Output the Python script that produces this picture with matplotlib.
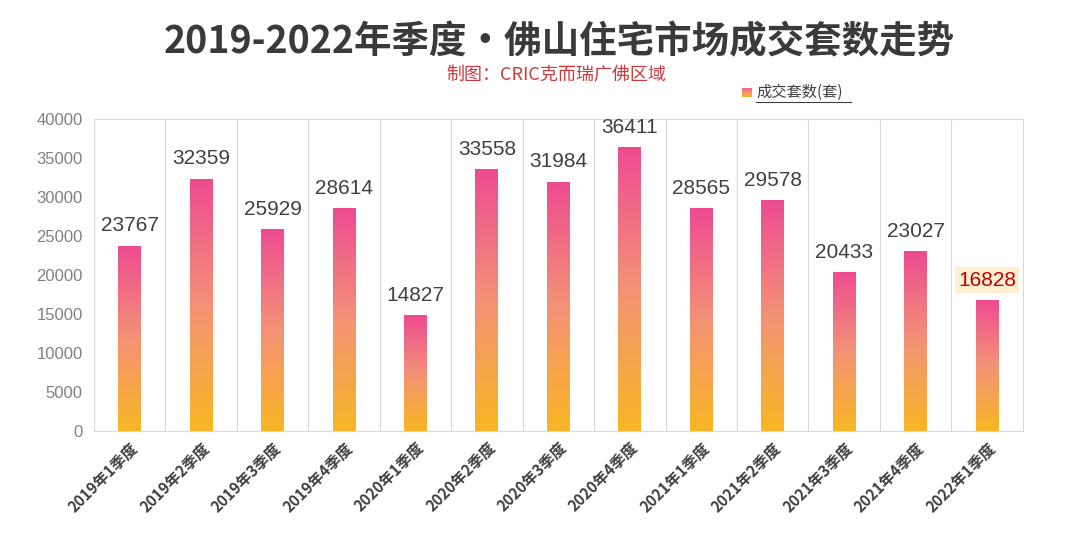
import numpy as np
import matplotlib.pyplot as plt
from matplotlib.colors import LinearSegmentedColormap
from matplotlib.patches import Rectangle

plt.rcParams['font.family'] = ['Noto Sans CJK SC', 'DejaVu Sans']

# data
quarters = ["2019年1季度", "2019年2季度", "2019年3季度", "2019年4季度",
            "2020年1季度", "2020年2季度", "2020年3季度", "2020年4季度",
            "2021年1季度", "2021年2季度", "2021年3季度", "2021年4季度",
            "2022年1季度"]
deals = [23767, 32359, 25929, 28614, 14827, 33558, 31984, 36411,
         28565, 29578, 20433, 23027, 16828]

cmap = LinearSegmentedColormap.from_list("bar", ["#F9B623", "#F39276", "#EE4B91"])
grad = np.linspace(0, 1, 256).reshape(-1, 1)

fig = plt.figure(figsize=(10.8, 5.41), dpi=100)
ax = fig.add_axes([0.087, 0.2033, 0.860, 0.5767])

n = len(deals)
w = 0.32
for i, v in enumerate(deals):
    x0 = i - w / 2
    im = ax.imshow(grad, extent=[x0, x0 + w, 0, v], origin='lower',
                   cmap=cmap, aspect='auto', zorder=2)
    rect = Rectangle((x0, 0), w, v, transform=ax.transData, facecolor='none', edgecolor='none')
    ax.add_patch(rect)
    im.set_clip_path(rect)
    if i == n - 1:
        ax.text(i, v + 1300, f"{v}", ha='center', va='bottom', fontsize=15,
                color='#C00000', family=['Liberation Sans', 'DejaVu Sans'], zorder=3,
                bbox=dict(boxstyle='square,pad=0.15', facecolor='#FDEFCF', edgecolor='none'))
    else:
        ax.text(i, v + 1300, f"{v}", ha='center', va='bottom', fontsize=15,
                color='#404040', family=['Liberation Sans', 'DejaVu Sans'], zorder=3)

ax.set_xlim(-0.5, n - 0.5)
ax.set_ylim(0, 40000)
ax.set_yticks(np.arange(0, 40001, 5000))
ax.set_yticklabels([str(t) for t in range(0, 40001, 5000)],
                   family=['Liberation Sans', 'DejaVu Sans'])
ax.tick_params(axis='y', labelsize=12, labelcolor='#808080', length=0, pad=8)
ax.set_xticks(range(n))
ax.set_xticklabels(quarters, rotation=45, ha='right', rotation_mode='anchor',
                   fontsize=11, fontweight='bold', color='#404040')
ax.tick_params(axis='x', length=0, pad=6)

for b in np.arange(0.5, n - 1, 1):
    ax.axvline(b, color='#D9D9D9', linewidth=0.8, zorder=1)
for s in ax.spines.values():
    s.set_color('#D9D9D9')
    s.set_linewidth(0.8)

fig.text(0.518, 0.922, "2019-2022年季度·佛山住宅市场成交套数走势", ha='center', va='center',
         fontsize=27, fontweight='bold', color='#3A3A3A')
fig.text(0.515, 0.860, "制图：CRIC克而瑞广佛区域", ha='center', va='center',
         fontsize=13, color='#D0393B')

# legend
lax = fig.add_axes([0.687, 0.821, 0.0085, 0.017])
lax.imshow(grad, cmap=cmap, origin='lower', aspect='auto')
lax.axis('off')
fig.text(0.700, 0.830, "成交套数(套)", ha='left', va='center', fontsize=11, color='#404040')
fig.add_artist(plt.Line2D([0.700, 0.788], [0.812, 0.812], color='#404040', linewidth=0.8))

fig.savefig("out.png", dpi=100)
